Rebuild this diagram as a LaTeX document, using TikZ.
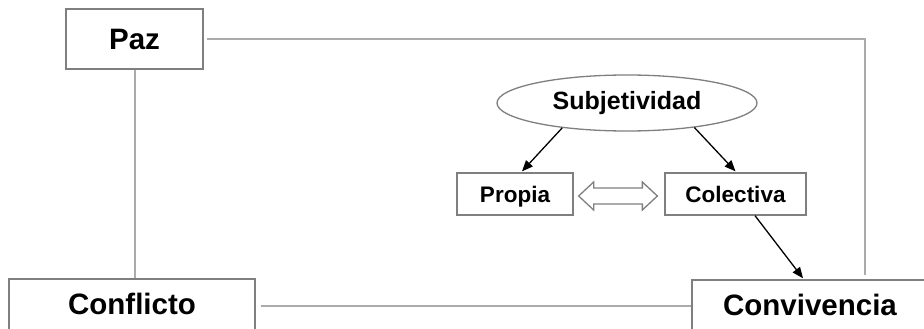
\documentclass[tikz,border=0pt]{standalone}
\usepackage{fontspec}
\setmainfont{Liberation Sans}
\usetikzlibrary{shapes.geometric,arrows.meta,calc}
\definecolor{boxgray}{HTML}{7F7F7F}
\definecolor{linegray}{HTML}{ABABAB}
\tikzset{
  bigbox/.style={draw=boxgray,line width=1.4pt,fill=white,inner sep=0pt,
    font=\bfseries\fontsize{29.5}{32}\selectfont},
  smallbox/.style={draw=boxgray,line width=1.3pt,fill=white,inner sep=0pt,minimum height=42pt,
    text height=20pt,text depth=4pt,
    font=\bfseries\fontsize{22.5}{25}\selectfont},
  ovalbox/.style={ellipse,draw=boxgray,line width=1.3pt,fill=white,inner sep=0pt,
    minimum width=260pt,minimum height=56pt,font=\bfseries\fontsize{25}{28}\selectfont},
  link/.style={draw=linegray,line width=2pt},
  arr/.style={draw=black,line width=1.3pt,-{Triangle[length=11pt,width=9pt]}},
  dblarr/.style={draw=boxgray,line width=1.3pt,fill=white,line join=miter}
}
\begin{document}
\begin{tikzpicture}[x=1pt,y=-1pt]
\useasboundingbox (0,0) rectangle (924,329);
\node[bigbox,minimum width=137pt,minimum height=60pt] (paz) at (134.5,39) {Paz};
\node[bigbox,minimum width=246pt,minimum height=54pt] (conf) at (132,306) {\raisebox{4pt}{Conflicto}};
\node[bigbox,minimum width=236pt,minimum height=54pt] (conv) at (810,307) {\raisebox{5pt}{Convivencia}};
\node[ovalbox] (sub) at (627,103) {Subjetividad};
\node[smallbox,minimum width=116pt] (pro) at (515,194) {Propia\hspace{8pt}};
\node[smallbox,minimum width=141pt] (col) at (735.5,194) {Colectiva\hspace{8pt}};
% gray connectors
\coordinate (pazR) at ($(paz.east)+(3,0)$);
\coordinate (corner) at (865,39);
\coordinate (convT) at (865,275);
\draw[link] (pazR) -- (corner) -- (convT);
\draw[link] (paz.south) -- (paz.south |- conf.north);
\draw[link] ($(conf.east)+(5,0)$) |- (conv.west |- 0,306);
% arrows
\draw[arr] (sub.201) -- ($(pro.north)+(7,-1)$);
\draw[arr] (sub.340) -- ($(col.north)+(0,-1)$);
\draw[arr] ($(col.south)+(19.5,0)$) -- ($(conv.north)+(-7,-1)$);
% double arrow between Propia and Colectiva
\coordinate (dl) at ($(pro.east)+(5,2)$);
\coordinate (dr) at ($(col.west)+(-7,2)$);
\draw[dblarr] (dl) -- ++(15,-14) -- ++(0,6) -- ($(dr)+(-15,-8)$) -- ++(0,-6) -- (dr)
  -- ++(-15,14) -- ++(0,-6) -- ($(dl)+(15,8)$) -- ++(0,6) -- cycle;
\end{tikzpicture}
\end{document}
